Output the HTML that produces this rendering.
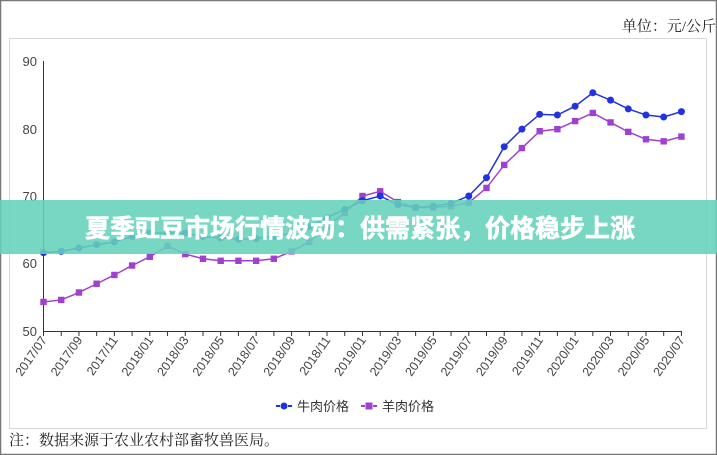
<!DOCTYPE html>
<html><head><meta charset="utf-8"><style>
body{margin:0;width:717px;height:455px;overflow:hidden;background:#fff;font-family:"Liberation Sans","Noto Sans CJK SC",sans-serif}
.serif{font-family:"Liberation Serif","Noto Serif CJK SC",serif}
</style></head><body>
<svg id="s" width="717" height="455" xmlns="http://www.w3.org/2000/svg" style="position:absolute;left:0;top:0">
<rect x="0.5" y="0.5" width="716" height="454" fill="#fff" stroke="#777" stroke-width="1.5"/>
<rect x="9.5" y="38.5" width="697" height="390" fill="#fff" stroke="#d8d8d8"/>
<text class="serif" x="716" y="31" text-anchor="end" font-size="15" fill="#222">单位：元/公斤</text>
<text class="serif" x="9" y="445" font-size="15" fill="#222">注：数据来源于农业农村部畜牧兽医局。</text>
<g font-size="13" fill="#444" text-anchor="end">
<text x="37" y="66">90</text><text x="37" y="134">80</text><text x="37" y="201">70</text><text x="37" y="268">60</text><text x="37" y="336">50</text>
</g>
<line x1="43.5" y1="61" x2="43.5" y2="331" stroke="#333"/>
<line x1="43" y1="331.5" x2="682" y2="331.5" stroke="#333"/>
<g id="ticks"></g>
<g id="data"></g>
<g font-size="13" fill="#333">
<line x1="276" y1="406" x2="292" y2="406" stroke="#2233dd" stroke-width="2" stroke-dasharray="4,2"/><circle cx="284" cy="406" r="3.5" fill="#2233dd"/>
<text x="297" y="411">牛肉价格</text>
<line x1="361" y1="406" x2="377" y2="406" stroke="#a040d0" stroke-width="2" stroke-dasharray="4,2"/><rect x="365.5" y="402.5" width="7" height="7" fill="#a040d0"/>
<text x="382" y="411">羊肉价格</text>
</g>
<rect x="0" y="200" width="717" height="54" fill="rgba(100,210,185,0.88)"/>
<text x="360" y="237" text-anchor="middle" font-size="25" font-weight="bold" fill="#fff" stroke="#fff" stroke-width="0.6">夏季豇豆市场行情波动：供需紧张，价格稳步上涨</text>
</svg>
<script>
var b=[61.6,61.8,62.3,62.8,63.2,64,64.5,64.5,64.5,64,63.8,63.6,63.7,64,64.5,65.5,66.8,68,69.3,70,68.7,68.3,68.5,68.9,70,72.7,77.3,79.9,82.1,82,83.3,85.3,84.2,82.9,82,81.7,82.5];
var l=[54.3,54.6,55.7,57,58.3,59.7,61,62.6,61.4,60.7,60.4,60.4,60.4,60.7,61.8,63.2,65.5,67.5,70,70.7,69.1,68.3,68.3,68.5,69,71.2,74.6,77.1,79.6,79.9,81.1,82.3,80.9,79.5,78.4,78.1,78.8];
var NS="http://www.w3.org/2000/svg";
function X(i){return 43.5+i*17.72}function Y(v){return 331-(v-50)*6.75}
function el(t,a,p){var e=document.createElementNS(NS,t);for(var k in a)e.setAttribute(k,a[k]);p.appendChild(e);return e}
var tk=document.getElementById('ticks'),d=document.getElementById('data');
var lab=["2017/07","2017/09","2017/11","2018/01","2018/03","2018/05","2018/07","2018/09","2018/11","2019/01","2019/03","2019/05","2019/07","2019/09","2019/11","2020/01","2020/03","2020/05","2020/07"];
for(var i=0;i<=36;i++){el('line',{x1:X(i),y1:331,x2:X(i),y2:336,stroke:'#333'},tk);}
lab.forEach(function(s,j){var x=X(j*2)+4,y=340;var t=el('text',{x:x,y:y,'font-size':12.5,fill:'#444','text-anchor':'end',transform:'rotate(-55 '+x+' '+y+')'},tk);t.textContent=s;});
function series(a,c,sq){el('polyline',{points:a.map(function(v,i){return X(i)+','+Y(v)}).join(' '),fill:'none',stroke:c,'stroke-width':1.5},d);
a.forEach(function(v,i){if(sq)el('rect',{x:X(i)-3.2,y:Y(v)-3.2,width:6.4,height:6.4,fill:c},d);else el('circle',{cx:X(i),cy:Y(v),r:3.5,fill:c},d);});}
series(l,'#a040d0',true);series(b,'#2233dd',false);
</script>
</body></html>
